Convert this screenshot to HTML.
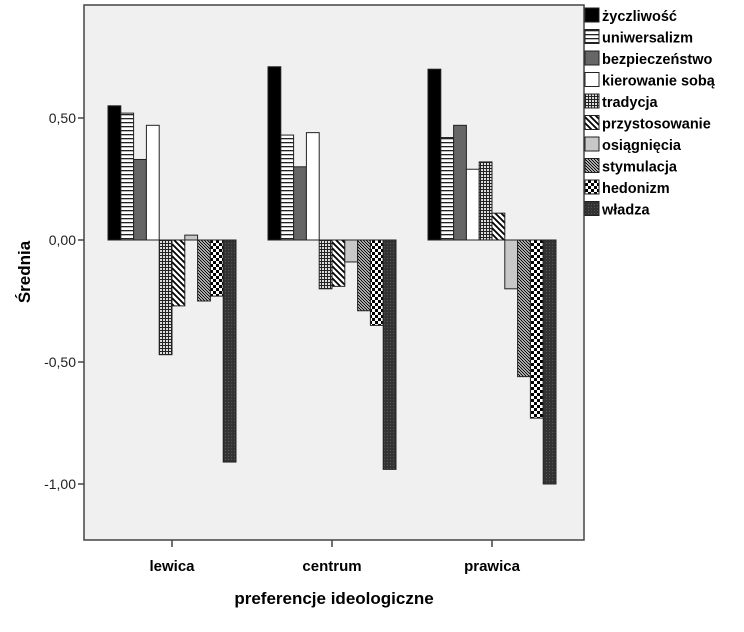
<!DOCTYPE html>
<html><head><meta charset="utf-8"><style>
body{margin:0;background:#fff;}
svg text{font-family:"Liberation Sans",Arial,sans-serif;}
</style></head><body>
<svg width="744" height="627" viewBox="0 0 744 627" xmlns="http://www.w3.org/2000/svg">
<defs>
<pattern id="p0" width="4" height="4" patternUnits="userSpaceOnUse"><rect width="4" height="4" fill="#000"/></pattern>
<pattern id="p1" width="4" height="4" patternUnits="userSpaceOnUse"><rect width="4" height="4" fill="#fff"/><rect y="2" width="4" height="1.3" fill="#222"/></pattern>
<pattern id="p2" width="4" height="4" patternUnits="userSpaceOnUse"><rect width="4" height="4" fill="#666"/></pattern>
<pattern id="p3" width="4" height="4" patternUnits="userSpaceOnUse"><rect width="4" height="4" fill="#fff"/></pattern>
<pattern id="p4" width="3" height="3" patternUnits="userSpaceOnUse"><rect width="3" height="3" fill="#ddd"/><rect width="3" height="1" fill="#222"/><rect width="1" height="3" fill="#222"/></pattern>
<pattern id="p5" width="6" height="6" patternUnits="userSpaceOnUse"><rect width="6" height="6" fill="#fff"/><path d="M-1,-1 L7,7 M-4,2 L4,10 M2,-4 L10,4" stroke="#000" stroke-width="1.8"/></pattern>
<pattern id="p6" width="4" height="4" patternUnits="userSpaceOnUse"><rect width="4" height="4" fill="#c8c8c8"/></pattern>
<pattern id="p7" width="3" height="3" patternUnits="userSpaceOnUse"><rect width="3" height="3" fill="#eee"/><path d="M-1,-1 L4,4 M-2,1 L1,4 M1,-2 L4,1" stroke="#000" stroke-width="1.1"/></pattern>
<pattern id="p8" width="6" height="6" patternUnits="userSpaceOnUse"><rect width="6" height="6" fill="#fff"/><rect width="3" height="3" fill="#000"/><rect x="3" y="3" width="3" height="3" fill="#000"/></pattern>
<pattern id="p9" width="3" height="3" patternUnits="userSpaceOnUse"><rect width="3" height="3" fill="#333"/><rect width="1" height="1" fill="#555"/></pattern>
</defs>
<rect x="84" y="5" width="500" height="535" fill="#f0f0f0" stroke="#444" stroke-width="1.5"/>
<g id="axes"></g>
<g id="bars"></g>
<g id="legend"></g>
<text x="30" y="272" font-size="17" font-weight="bold" text-anchor="middle" transform="rotate(-90 30 272)">Średnia</text>
<text x="334" y="604" font-size="17" font-weight="bold" text-anchor="middle">preferencje ideologiczne</text>
</svg>
<script>
const categories = ["lewica","centrum","prawica"];
const seriesNames = ["życzliwość","uniwersalizm","bezpieczeństwo","kierowanie sobą","tradycja","przystosowanie","osiągnięcia","stymulacja","hedonizm","władza"];
const lewica = [0.55,0.52,0.33,0.47,-0.47,-0.27,0.02,-0.25,-0.23,-0.91];
const centrum = [0.71,0.43,0.30,0.44,-0.20,-0.19,-0.09,-0.29,-0.35,-0.94];
const prawica = [0.70,0.42,0.47,0.29,0.32,0.11,-0.20,-0.56,-0.73,-1.00];
const yTicks = [0.5,0,-0.5,-1];
const yTickLabels = ["0,50","0,00","-0,50","-1,00"];
const values = [lewica, centrum, prawica];
const NS = "http://www.w3.org/2000/svg";
function y(v){ return 240 - v*244; }
const bandStart = 92, bandW = 160, barW = 12.8;
function cx(i){ return bandStart + bandW*i + bandW/2; }
function mk(tag, attrs, parent){ const e=document.createElementNS(NS,tag); for(const k in attrs) e.setAttribute(k,attrs[k]); parent.appendChild(e); return e; }
const axes=document.getElementById('axes'), bars=document.getElementById('bars'), legend=document.getElementById('legend');
yTicks.forEach((t,i)=>{
  const l=mk('line',{x1:78,x2:84,y1:y(t),y2:y(t),stroke:'#444','stroke-width':1.5},axes);
  
  
  const tx=mk('text',{x:76,y:y(t)+5,'font-size':14,'text-anchor':'end',fill:'#222'},axes);
  tx.textContent=yTickLabels[i];
  
  
});
categories.forEach((c,i)=>{
  const l=mk('line',{x1:cx(i),x2:cx(i),y1:540,y2:547,stroke:'#444','stroke-width':1.5},axes);
  
  
  const tx=mk('text',{x:cx(i),y:571,'font-size':15,'font-weight':'bold','text-anchor':'middle'},axes);
  tx.textContent=c;
  
  
  values[i].forEach((v,j)=>{
    const x0=cx(i)-barW*seriesNames.length/2+barW*j;
    const top=Math.min(y(v),y(0)), h=Math.abs(y(v)-y(0));
    const r=mk('rect',{x:x0,y:top,width:barW,height:h,fill:'url(#p'+j+')',stroke:'#222','stroke-width':1},bars);
    
    
  });
});
seriesNames.forEach((s,j)=>{
  const yy=8+j*21.5;
  const g=mk('g',{},legend);
  
  
  mk('rect',{x:585,y:yy,width:14,height:14,fill:'url(#p'+j+')',stroke:'#222','stroke-width':1},g);
  const t=mk('text',{x:602,y:yy+13,'font-size':14.5,'font-weight':'bold'},g);
  t.textContent=s;
});
</script>
</body></html>
